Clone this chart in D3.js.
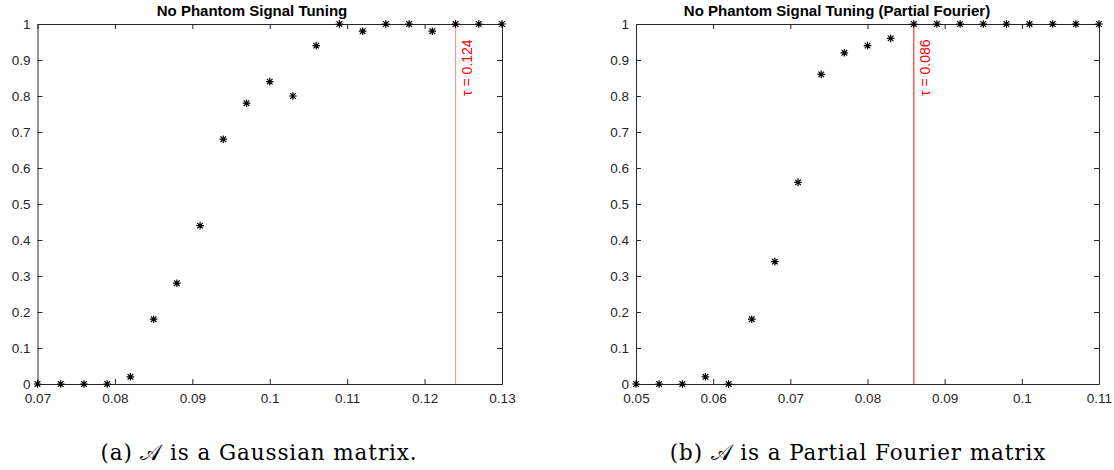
<!DOCTYPE html>
<html lang="en">
<head>
    <meta charset="UTF-8">
    <title>No Phantom Signal Tuning</title>
    <script src="https://d3js.org/d3.v7.min.js"></script>
    <style>
        body { margin: 0; background: #fff; }
        .caption { font-family: "DejaVu Serif", "Liberation Serif", serif; font-size: 21.5px; letter-spacing: 0.9px; fill: #000; }
    </style>
</head>
<body>
<svg id="chart" width="1114" height="470"></svg>
<script>
    // (a) Gaussian matrix
    let xA = [0.070, 0.073, 0.076, 0.079, 0.082, 0.085, 0.088, 0.091, 0.094, 0.097, 0.100,
              0.103, 0.106, 0.109, 0.112, 0.115, 0.118, 0.121, 0.124, 0.127, 0.130]
    let yA = [0, 0, 0, 0, 0.02, 0.18, 0.28, 0.44, 0.68, 0.78, 0.84,
              0.80, 0.94, 1, 0.98, 1, 1, 0.98, 1, 1, 1]
    let ticksXA = [0.07, 0.08, 0.09, 0.1, 0.11, 0.12, 0.13]
    let tauA = 0.124

    // (b) Partial Fourier matrix
    let xB = [0.050, 0.053, 0.056, 0.059, 0.062, 0.065, 0.068, 0.071, 0.074, 0.077, 0.080,
              0.083, 0.086, 0.089, 0.092, 0.095, 0.098, 0.101, 0.104, 0.107, 0.110]
    let yB = [0, 0, 0, 0.02, 0, 0.18, 0.34, 0.56, 0.86, 0.92, 0.94,
              0.96, 1, 1, 1, 1, 1, 1, 1, 1, 1]
    let ticksXB = [0.05, 0.06, 0.07, 0.08, 0.09, 0.1, 0.11]
    let tauB = 0.086

    let ticksY = [0, 0.1, 0.2, 0.3, 0.4, 0.5, 0.6, 0.7, 0.8, 0.9, 1]

    let svg = d3.select("#chart")
    let axisColor = "#262626"
    let sans = "'Liberation Sans', Arial, sans-serif"

    // asterisk marker (MATLAB '*'): plus + cross
    let r = 3.8, rd = 2.8
    let star = `M0,${-r}V${r}M${-r},0H${r}M${-rd},${-rd}L${rd},${rd}M${-rd},${rd}L${rd},${-rd}`

    function drawPanel(opts) {
        let x = d3.scaleLinear().domain(opts.xDomain).range([opts.left, opts.right])
        let y = d3.scaleLinear().domain([0, 1]).range([384, 24])
        let g = svg.append("g")

        let fmt = d => d3.format("~g")(d)

        // bottom axis
        g.append("g").attr("transform", "translate(0,384)")
            .call(d3.axisBottom(x).tickValues(opts.ticksX).tickSizeInner(-5).tickSizeOuter(0).tickPadding(9).tickFormat(fmt))
        // top axis
        g.append("g").attr("transform", "translate(0,24)")
            .call(d3.axisTop(x).tickValues(opts.ticksX).tickSizeInner(-5).tickSizeOuter(0).tickFormat(""))
        // left axis
        g.append("g").attr("transform", `translate(${opts.left},0)`)
            .call(d3.axisLeft(y).tickValues(ticksY).tickSizeInner(-5).tickSizeOuter(0).tickPadding(7).tickFormat(fmt))
        // right axis
        g.append("g").attr("transform", `translate(${opts.right},0)`)
            .call(d3.axisRight(y).tickValues(ticksY).tickSizeInner(-5).tickSizeOuter(0).tickFormat(""))

        g.selectAll(".domain").attr("stroke", axisColor)
        g.selectAll(".tick line").attr("stroke", axisColor)
        g.selectAll(".tick text")
            .attr("font-family", sans)
            .attr("font-size", "13.5px")
            .attr("fill", axisColor)

        // title
        g.append("text")
            .attr("x", opts.titleX).attr("y", 16)
            .attr("text-anchor", "middle")
            .attr("font-family", sans)
            .attr("font-size", "15px")
            .attr("font-weight", "bold")
            .text(opts.title)

        // threshold line
        g.append("line")
            .attr("x1", x(opts.tau)).attr("x2", x(opts.tau))
            .attr("y1", y(0)).attr("y2", y(1))
            .attr("stroke", opts.lineColor).attr("stroke-width", 1.2)

        g.append("text")
            .attr("transform", `translate(${x(opts.tau) + 16},${y(0.8)}) rotate(-90)`)
            .attr("text-anchor", "start")
            .attr("font-family", sans)
            .attr("font-size", "14px")
            .attr("fill", "#ff0000")
            .text(`\u03c4 = ${opts.tau}`)

        // points
        g.selectAll("path.pt")
            .data(opts.xs.map((d, i) => [d, opts.ys[i]]))
            .enter()
            .append("path")
            .attr("class", "pt")
            .attr("transform", d => `translate(${x(d[0])},${y(d[1])})`)
            .attr("d", star)
            .attr("stroke", "#000")
            .attr("stroke-width", 1.2)
            .attr("fill", "none")

        // caption
        svg.append("text").attr("class", "caption")
            .attr("x", opts.capX).attr("y", 460)
            .attr("text-anchor", "middle")
            .text(opts.caption)
    }

    drawPanel({
        xDomain: [0.07, 0.13], left: 37.5, right: 502, ticksX: ticksXA,
        xs: xA, ys: yA, tau: tauA, lineColor: "#f49a9a",
        title: "No Phantom Signal Tuning", titleX: 252,
        caption: "(a) \ud835\udc9c is a Gaussian matrix.", capX: 259
    })
    drawPanel({
        xDomain: [0.05, 0.11], left: 636, right: 1099, ticksX: ticksXB,
        xs: xB, ys: yB, tau: tauB, lineColor: "#ff3030",
        title: "No Phantom Signal Tuning (Partial Fourier)", titleX: 837,
        caption: "(b) \ud835\udc9c is a Partial Fourier matrix", capX: 858
    })
</script>
</body>
</html>
